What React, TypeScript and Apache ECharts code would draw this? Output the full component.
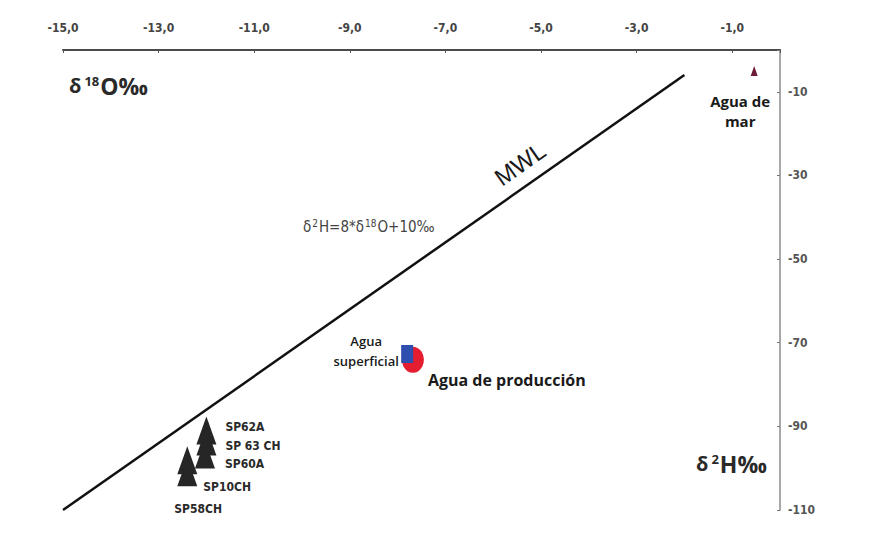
import React, { useEffect, useRef } from "react";
import * as echarts from "echarts";

// δ18O (x) and δ2H (y) values
const spNames = ["SP62A", "SP 63 CH", "SP60A", "SP10CH", "SP58CH"];
const spO18 = [-12.0, -12.0, -12.03, -12.4, -12.4];
const spH2 = [-91.0, -93.6, -96.7, -98.1, -101.0];

const marO18 = [-0.54];
const marH2 = [-5.0];

const prodO18 = [-7.68];
const prodH2 = [-74.1];

const supO18 = [-7.8];
const supH2 = [-72.7];

// Meteoric water line endpoints
const mwlO18 = [-15, -2];
const mwlH2 = [-110, -6];

const xTicksMin = -15;
const xTicksMax = 0;
const yTicksMin = -110;
const yTicksMax = 0;

const labelFont = "'DejaVu Sans Condensed', 'DejaVu Sans', sans-serif";
const textFont = "'Open Sans', 'Liberation Sans', sans-serif";

const spLabelOffsets: Record<string, number[]> = {
  SP62A: [4, -4],
  "SP 63 CH": [4, 5],
  SP60A: [5, 10],
  SP10CH: [1, 27],
  SP58CH: [-28, 37],
};

export default function App() {
  const ref = useRef<HTMLDivElement>(null);
  useEffect(() => {
    if (!ref.current) return;
    const chart = echarts.init(ref.current, undefined, { renderer: "svg" });
    const fmtX = (v: number) => (v === 0 ? "" : v.toFixed(1).replace(".", ","));
    const fmtY = (v: number) => (v === 0 ? "" : String(v));
    chart.setOption({
      animation: false,
      backgroundColor: "#ffffff",
      grid: { left: 63, right: 98, top: 50, bottom: 25 },
      xAxis: {
        type: "value",
        position: "top",
        min: xTicksMin,
        max: xTicksMax,
        interval: 2,
        axisLine: { show: true, lineStyle: { color: "#4a4a4a", width: 2 } },
        axisTick: { show: true, inside: true, length: 3, lineStyle: { color: "#555" } },
        splitLine: { show: false },
        axisLabel: {
          formatter: fmtX,
          margin: 16,
          color: "#444",
          fontFamily: labelFont,
          fontWeight: "bold",
          fontSize: 12,
        },
      },
      yAxis: {
        type: "value",
        position: "right",
        min: yTicksMin,
        max: yTicksMax,
        interval: 20,
        axisLine: { show: true, lineStyle: { color: "#a8a8a8", width: 2 } },
        axisTick: { show: true, inside: true, length: 3, lineStyle: { color: "#777" } },
        splitLine: { show: false },
        axisLabel: {
          formatter: fmtY,
          margin: 8,
          color: "#555",
          fontFamily: labelFont,
          fontWeight: "bold",
          fontSize: 12,
        },
      },
      graphic: [
        {
          type: "text",
          left: 69,
          top: 74,
          style: {
            text: "{a|δ}{b|18}{c|O‰}",
            rich: {
              a: { fontSize: 20, fontWeight: "bold", fontFamily: textFont, fill: "#2a2a2a" },
              b: { fontSize: 13, fontWeight: "bold", fontFamily: textFont, fill: "#2a2a2a", verticalAlign: "top", padding: [0, 1, 9, 3] },
              c: { fontSize: 23, fontWeight: "bold", fontFamily: textFont, fill: "#2a2a2a" },
            },
          },
        },
        {
          type: "text",
          left: 696,
          top: 452,
          style: {
            text: "{a|δ}{b|2}{c|H‰}",
            rich: {
              a: { fontSize: 20, fontWeight: "bold", fontFamily: textFont, fill: "#2a2a2a" },
              b: { fontSize: 13, fontWeight: "bold", fontFamily: textFont, fill: "#2a2a2a", verticalAlign: "top", padding: [0, 1, 9, 3] },
              c: { fontSize: 23, fontWeight: "bold", fontFamily: textFont, fill: "#2a2a2a" },
            },
          },
        },
        {
          type: "text",
          x: 520,
          y: 164,
          rotation: (35 * Math.PI) / 180,
          style: {
            text: "MWL",
            fontSize: 24,
            fontFamily: "'Liberation Sans', Arial, sans-serif",
            fill: "#1a1a1a",
            align: "center",
            verticalAlign: "middle",
          },
        },
        {
          type: "text",
          left: 303,
          top: 218,
          style: {
            text: "{a|δ}{s|2}{a|H=8*δ}{s|18}{a|O+10‰}",
            rich: {
              a: { fontSize: 15, fontFamily: labelFont, fill: "#444" },
              s: { fontSize: 10, fontFamily: labelFont, fill: "#444", verticalAlign: "top", padding: [0, 1, 7, 1] },
            },
          },
        },
      ],
      series: [
        {
          type: "line",
          name: "MWL",
          data: mwlO18.map((x, i) => [x, mwlH2[i]]),
          showSymbol: false,
          symbol: "none",
          lineStyle: { color: "#111", width: 2.5 },
          z: 1,
        },
        {
          type: "scatter",
          name: "SP",
          symbol: "triangle",
          symbolSize: [20, 28],
          itemStyle: { color: "#262626", opacity: 1 },
          data: spNames.map((n, i) => ({
            name: n,
            value: [spO18[i], spH2[i]],
            label: {
              show: true,
              position: "right",
              offset: spLabelOffsets[n],
              formatter: "{b}",
              color: "#2a2a2a",
              fontFamily: labelFont,
              fontWeight: "bold",
              fontSize: 12,
            },
          })),
          z: 3,
        },
        {
          type: "scatter",
          name: "Agua de mar",
          symbol: "triangle",
          symbolSize: [7, 10],
          itemStyle: { color: "#6e1a3a", opacity: 1 },
          data: marO18.map((x, i) => ({
            name: "Agua de\nmar",
            value: [x, marH2[i]],
            label: {
              show: true,
              position: "bottom",
              offset: [-14, 10],
              formatter: "{b}",
              color: "#1a1a1a",
              fontFamily: textFont,
              fontWeight: "bold",
              fontSize: 15,
              lineHeight: 20,
              align: "center",
            },
          })),
          z: 3,
        },
        {
          type: "scatter",
          name: "Agua de producción",
          symbol: "circle",
          symbolSize: [22, 26],
          itemStyle: { color: "#e41e30", opacity: 1 },
          data: prodO18.map((x, i) => ({
            name: "Agua de producción",
            value: [x, prodH2[i]],
            label: {
              show: true,
              position: "right",
              offset: [-1, 20],
              formatter: "{b}",
              color: "#1a1a1a",
              fontFamily: textFont,
              fontWeight: "bold",
              fontSize: 16,
            },
          })),
          z: 3,
        },
        {
          type: "scatter",
          name: "Agua superficial",
          symbol: "rect",
          symbolSize: [12, 18],
          itemStyle: { color: "#2f4fb0", opacity: 1 },
          data: supO18.map((x, i) => ({
            name: "Agua\nsuperficial",
            value: [x, supH2[i]],
            label: {
              show: true,
              position: "left",
              offset: [-30, -3],
              formatter: "{b}",
              color: "#1a1a1a",
              fontFamily: textFont,
              fontWeight: 600,
              fontSize: 13,
              lineHeight: 20,
              align: "center",
            },
          })),
          z: 4,
        },
      ],
    });
    return () => chart.dispose();
  }, []);
  return (
    <div
      ref={ref}
      style={{ position: "fixed", left: 0, top: 0, width: 878, height: 535, background: "#fff" }}
    />
  );
}
